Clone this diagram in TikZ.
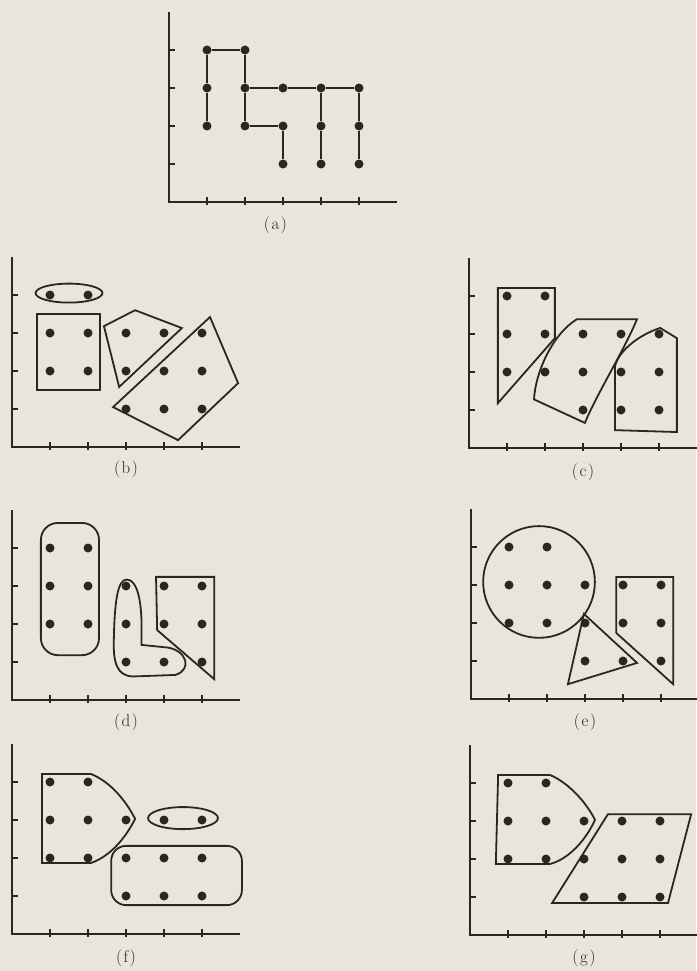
\documentclass[tikz,border=0pt]{standalone}
\definecolor{paper}{HTML}{E9E5DA}
\definecolor{ink}{HTML}{2A2624}
% axes with ticks, in grid units of one panel
\newcommand{\drawaxes}{%
  \draw[axis] (0,5) -- (0,0) -- (6,0);
  \foreach \t in {1,...,5} \draw[axis] (\t,-0.08) -- (\t,0.12);
  \foreach \t in {1,...,4} \draw[axis] (0,\t) -- (0.17,\t);
}
\newcommand{\caplabel}[1]{(\kern1.6pt#1\kern1.6pt)}
\begin{document}
\begin{tikzpicture}[
  x=1pt, y=-1pt,
  axis/.style={ink, line width=2.1pt},
  dot/.style={circle, fill=ink, inner sep=0pt, minimum size=9pt},
  link/.style={ink, line width=2.4pt},
  hull/.style={ink, line width=1.8pt},
  lbl/.style={text=ink, font=\fontsize{17}{19}\selectfont}
]
  \fill[paper] (0,0) rectangle (696,971);
  \useasboundingbox (0,0) rectangle (696,971);

  % (a) spanning tree
  \begin{scope}[shift={(169,202)}, x=38pt, y=38pt]
    \drawaxes
    \foreach \x/\y in {1/4,2/4,1/3,2/3,3/3,4/3,5/3,1/2,2/2,3/2,4/2,5/2,3/1,4/1,5/1}
      \node[dot] (a\x\y) at (\x,\y) {};
    \draw[link] (a12) -- (a13) -- (a14) -- (a24) -- (a23) -- (a22) -- (a32) -- (a31);
    \draw[link] (a23) -- (a33) -- (a43) -- (a53) -- (a52) -- (a51);
    \draw[link] (a43) -- (a42) -- (a41);
    \node[lbl] (la) at (2.8,-0.6) {\caplabel{a}};
  \end{scope}

  % (b)
  \begin{scope}[shift={(12,447)}, x=38pt, y=38pt]
    \drawaxes
    \foreach \x/\y in {1/4,2/4,1/3,2/3,1/2,2/2,3/3,4/3,3/2,5/3,4/2,5/2,3/1,4/1,5/1}
      \node[dot] (b\x\y) at (\x,\y) {};
    \draw[hull] (1.5,4.05) ellipse [x radius=0.88, y radius=0.25];
    \draw[hull] (0.66,1.5) rectangle (2.32,3.5);
    \draw[hull] (2.42,3.18) -- (3.24,3.6) -- (4.47,3.13) -- (2.82,1.58) -- cycle;
    \draw[hull] (5.21,3.42) -- (5.95,1.68) -- (4.37,0.18) -- (2.66,1.05) -- cycle;
    \node[lbl] (lb) at (3,-0.58) {\caplabel{b}};
  \end{scope}

  % (c)
  \begin{scope}[shift={(469,448)}, x=38pt, y=38pt]
    \drawaxes
    \foreach \x/\y in {1/4,2/4,1/3,2/3,1/2,2/2,3/3,4/3,3/2,3/1,5/3,4/2,5/2,4/1,5/1}
      \node[dot] (c\x\y) at (\x,\y) {};
    \draw[hull] (0.76,4.21) -- (2.26,4.21) -- (2.26,2.89) -- (0.76,1.18) -- cycle;
    \draw[hull] (1.71,1.28) .. controls (1.75,2.0) and (2.2,3.0) .. (2.84,3.39)
      -- (4.42,3.39) .. controls (4.1,2.6) and (3.35,1.4) .. (3.05,0.66) -- cycle;
    \draw[hull] (3.84,0.47) -- (5.47,0.42) -- (5.47,2.89) -- (5.03,3.16)
      .. controls (4.4,2.95) and (3.9,2.5) .. (3.84,2.13) -- cycle;
    \node[lbl] (lc) at (3,-0.64) {\caplabel{c}};
  \end{scope}

  % (d)
  \begin{scope}[shift={(12,700)}, x=38pt, y=38pt]
    \drawaxes
    \foreach \x/\y in {1/4,2/4,1/3,2/3,1/2,2/2,3/3,3/2,3/1,4/1,4/3,5/3,4/2,5/2,5/1}
      \node[dot] (d\x\y) at (\x,\y) {};
    \draw[hull, rounded corners=17pt] (0.76,1.18) rectangle (2.29,4.66);
    \draw[hull] (3.41,1.45) -- (4.1,1.38) .. controls (4.6,1.3) and (4.75,0.8) .. (4.3,0.66)
      -- (3.2,0.62) .. controls (2.75,0.62) and (2.66,1.0) .. (2.68,1.6)
      .. controls (2.7,2.6) and (2.78,3.17) .. (3.02,3.17)
      .. controls (3.3,3.17) and (3.4,2.6) .. (3.41,2.0) -- cycle;
    \draw[hull] (3.79,3.24) -- (5.32,3.24) -- (5.32,0.55) -- (3.82,1.84) -- cycle;
    \node[lbl] (ld) at (3,-0.58) {\caplabel{d}};
  \end{scope}

  % (e)
  \begin{scope}[shift={(471,699)}, x=38pt, y=38pt]
    \drawaxes
    \foreach \x/\y in {1/4,2/4,1/3,2/3,3/3,1/2,2/2,3/2,3/1,4/1,4/3,5/3,4/2,5/2,5/1}
      \node[dot] (e\x\y) at (\x,\y) {};
    \draw[hull] (1.79,3.08) circle [radius=1.47];
    \draw[hull] (2.97,2.24) -- (4.37,0.95) -- (2.55,0.39) -- cycle;
    \draw[hull] (3.82,3.21) -- (5.32,3.21) -- (5.32,0.39) -- (3.82,1.74) -- cycle;
    \node[lbl] (le) at (3,-0.62) {\caplabel{e}};
  \end{scope}

  % (f)
  \begin{scope}[shift={(12,934)}, x=38pt, y=38pt]
    \drawaxes
    \foreach \x/\y in {1/4,2/4,1/3,2/3,3/3,1/2,2/2,4/3,5/3,3/2,4/2,5/2,3/1,4/1,5/1}
      \node[dot] (f\x\y) at (\x,\y) {};
    \draw[hull] (0.79,1.87) -- (0.79,4.21) -- (2.08,4.21)
      .. controls (2.6,4.0) and (3.0,3.5) .. (3.24,3.03)
      .. controls (3.0,2.55) and (2.6,2.05) .. (2.08,1.87) -- cycle;
    \draw[hull] (4.5,3.05) ellipse [x radius=0.92, y radius=0.29];
    \draw[hull, rounded corners=15pt] (2.61,0.76) rectangle (6.05,2.32);
    \node[lbl] (lf) at (3,-0.64) {\caplabel{f}};
  \end{scope}

  % (g)
  \begin{scope}[shift={(470,935)}, x=38pt, y=38pt]
    \drawaxes
    \foreach \x/\y in {1/4,2/4,1/3,2/3,3/3,1/2,2/2,4/3,5/3,3/2,4/2,5/2,3/1,4/1,5/1}
      \node[dot] (g\x\y) at (\x,\y) {};
    \draw[hull] (0.68,1.87) -- (0.74,4.21) -- (2.11,4.21)
      .. controls (2.6,4.0) and (3.05,3.5) .. (3.29,3.03)
      .. controls (3.05,2.5) and (2.6,2.0) .. (2.11,1.87) -- cycle;
    \draw[hull] (3.63,3.18) -- (5.82,3.18) -- (5.21,0.84) -- (2.16,0.84) -- cycle;
    \node[lbl] (lg) at (3,-0.62) {\caplabel{g}};
  \end{scope}
\end{tikzpicture}
\end{document}
